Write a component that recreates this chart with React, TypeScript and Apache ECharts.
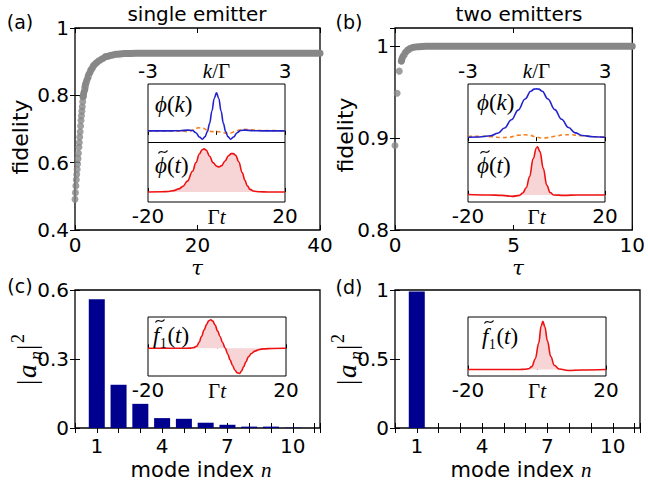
import React, { useEffect, useRef } from 'react';
import * as echarts from 'echarts';

// ---------------- data ----------------
// (a) single emitter: fidelity vs tau
const fidA_tauDots = [0, 0.07, 0.14, 0.21, 0.28, 0.35, 0.42, 0.49, 0.56, 0.63, 0.7, 0.77, 0.84, 0.91, 0.98, 1.05, 1.12, 1.19, 1.26, 1.33];
const fidA_dots = [0.491, 0.511, 0.531, 0.549, 0.565, 0.58, 0.596, 0.612, 0.628, 0.646, 0.66, 0.676, 0.692, 0.709, 0.725, 0.739, 0.753, 0.766, 0.781, 0.796];
const fidA_tauCurve = [1.33, 1.5, 1.79, 2.0, 2.33, 2.7, 3.14, 3.5, 3.95, 4.5, 5.04, 6, 6.67, 8, 10, 15, 20, 30, 40];
const fidA_curve = [0.796, 0.813, 0.836, 0.848, 0.865, 0.878, 0.89, 0.897, 0.903, 0.909, 0.915, 0.919, 0.922, 0.924, 0.925, 0.925, 0.925, 0.925, 0.925];

// (b) two emitters: fidelity vs tau
const fidB_tauDots = [0, 0.09, 0.18, 0.27];
const fidB_dots = [0.892, 0.949, 0.973, 0.984];
const fidB_tauCurve = [0.27, 0.36, 0.45, 0.55, 0.66, 0.8, 1.0, 1.3, 1.7, 2.5, 4, 6, 8, 10];
const fidB_curve = [0.984, 0.99, 0.9935, 0.9962, 0.998, 0.9991, 0.9997, 1.0, 1.0, 1.0, 1.0, 1.0, 1.0, 1.0];

// (c) / (d) mode populations |a_n|^2
const modeIndex = [1, 2, 3, 4, 5, 6, 7, 8, 9, 10];
const popC = [0.56, 0.188, 0.105, 0.043, 0.04, 0.023, 0.014, 0.006, 0.006, 0.0015];
const popD = [0.99, 0, 0, 0, 0, 0, 0, 0, 0, 0];

// inset (a) top: phi(k)
const phiA_k = [-3, -2, -1.6, -1.25, -1.05, -0.9, -0.75, -0.62, -0.5, -0.4, -0.3, -0.2, -0.1, 0, 0.1, 0.2, 0.3, 0.4, 0.5, 0.62, 0.75, 0.9, 1.05, 1.25, 1.6, 2, 3];
const phiA_re = [0, 0, 0.005, 0.02, 0.01, -0.05, -0.16, -0.22, -0.15, -0.02, 0.2, 0.52, 0.85, 1, 0.85, 0.52, 0.2, -0.02, -0.15, -0.22, -0.16, -0.05, 0.01, 0.02, 0.005, 0, 0];
const phiA_kIm = [-3, -2, -1.5, -1.2, -1.0, -0.8, -0.6, -0.4, -0.2, 0, 0.2, 0.4, 0.6, 0.8, 1.0, 1.2, 1.5, 2, 3];
const phiA_im = [0, 0, -0.01, -0.02, 0.03, 0.08, 0.07, 0.02, -0.02, -0.02, -0.03, -0.06, -0.06, -0.02, 0.02, 0.04, 0.03, 0.01, 0];
// inset (a) bottom: phi~(t)
const phiTA_t = [-20, -16, -14, -12.5, -11, -9.8, -8.5, -7, -6, -5, -4.2, -3.6, -3, -2, -1, 0, 0.7, 1.5, 2.5, 3.5, 4.3, 4.9, 5.6, 6.5, 7.5, 8.3, 9, 9.8, 11, 12.5, 15, 20];
const phiTA = [0, 0.005, 0.01, 0.03, 0.07, 0.13, 0.25, 0.48, 0.68, 0.88, 0.98, 1, 0.97, 0.83, 0.68, 0.6, 0.58, 0.61, 0.72, 0.84, 0.89, 0.89, 0.85, 0.7, 0.45, 0.27, 0.14, 0.06, 0.015, 0.003, 0, 0];

// inset (b) top: phi(k)
const phiB_k = [-3, -2.5, -2, -1.7, -1.4, -1.1, -0.8, -0.5, -0.25, -0.1, 0, 0.1, 0.25, 0.5, 0.8, 1.1, 1.4, 1.7, 2, 2.5, 3];
const phiB_re = [0, 0.005, 0.03, 0.08, 0.19, 0.36, 0.56, 0.79, 0.95, 0.995, 1, 0.995, 0.95, 0.79, 0.57, 0.37, 0.2, 0.09, 0.035, 0.008, 0];
const phiB_kIm = [-3, -2.5, -2, -1.5, -1.2, -0.8, -0.5, -0.3, 0, 0.3, 0.5, 0.8, 1.2, 1.5, 2, 2.5, 3];
const phiB_im = [0.02, 0.02, 0.01, -0.01, 0, 0.04, 0.05, 0.04, 0, -0.02, -0.01, 0.02, 0.05, 0.05, 0.03, 0.01, 0];
// inset (b) bottom: phi~(t)
const phiTB_t = [-20, -14, -10, -7, -5, -4, -3, -2, -1, 0, 0.3, 1, 2, 3, 4, 5, 8, 12, 20];
const phiTB = [0.01, 0, -0.01, -0.03, -0.01, 0.04, 0.15, 0.38, 0.75, 0.98, 1, 0.9, 0.55, 0.2, 0.05, 0, -0.01, 0, 0];

// inset (c): f~1(t)
const f1C_t = [-20, -10, -7.9, -6.9, -5.9, -5.2, -4.5, -3.7, -3, -2.4, -1.8, -1.2, -0.6, 0.2, 0.9, 1.6, 2.4, 3.1, 3.8, 4.5, 5.2, 5.9, 6.5, 7.1, 7.7, 8.4, 9.1, 10, 11, 12.3, 13.5, 16, 20];
const f1C = [0, 0, 0.005, 0.02, 0.07, 0.2, 0.41, 0.65, 0.84, 0.96, 1, 0.95, 0.82, 0.6, 0.41, 0.2, 0, -0.2, -0.41, -0.6, -0.77, -0.86, -0.88, -0.8, -0.65, -0.47, -0.3, -0.18, -0.1, -0.04, -0.02, -0.005, 0];
// inset (d): f~1(t)
const f1D_t = [-20, -8, -5, -3.5, -2.5, -1.5, -0.5, 0.5, 1.2, 1.7, 2.3, 3, 4, 5, 6.5, 9, 13, 20];
const f1D = [0, 0, 0, 0.005, 0.015, 0.06, 0.22, 0.55, 0.9, 1, 0.88, 0.6, 0.27, 0.09, 0.01, -0.02, -0.01, 0];

// tick labels
const modeTickLabels = [1, 4, 7, 10];

// ---------------- styling ----------------
const SANS = 'DejaVu Sans';
const SERIF = '"Liberation Serif", "DejaVu Serif", serif';
const GREEKSERIF = '"DejaVu Serif", serif';
const GRAY = '#878787';
const NAVY = '#00008f';
const BLUE = '#2222cc';
const ORANGE = '#f5821f';
const RED = '#ee1111';
const PINK = '#f7d5d7';

const zip = (a: number[], b: number[]) => a.map((x, i) => [x, b[i]]);

const mathRich = (size: number) => ({
  i: { fontFamily: SERIF, fontStyle: 'italic', fontSize: size, color: '#000' },
  r: { fontFamily: SERIF, fontSize: size, color: '#000' },
  s: { fontFamily: SANS, fontSize: size, color: '#000' },
});

function buildOption() {
  const gridBoxes = [
    { left: 75, top: 28, width: 245, height: 202 }, // 0 a
    { left: 395, top: 28, width: 245, height: 202 }, // 1 b
    { left: 75, top: 290, width: 245, height: 138 }, // 2 c
    { left: 395, top: 290, width: 245, height: 138 }, // 3 d
    { left: 148, top: 84, width: 137, height: 58.5 }, // 4 a inset top
    { left: 148, top: 142.5, width: 137, height: 59.5 }, // 5 a inset bottom
    { left: 468, top: 84, width: 137, height: 58.5 }, // 6 b inset top
    { left: 468, top: 142.5, width: 137, height: 59.5 }, // 7 b inset bottom
    { left: 148, top: 317, width: 138, height: 59 }, // 8 c inset
    { left: 468, top: 317, width: 138, height: 59 }, // 9 d inset
  ];
  const grid = gridBoxes.map((g, i) => ({
    ...g,
    show: true,
    borderColor: '#000',
    borderWidth: i < 4 ? 1.3 : 1,
    backgroundColor: i >= 4 ? '#fff' : 'transparent',
    containLabel: false,
  }));

  const labelStyle = { fontFamily: SANS, fontSize: 20, color: '#000' };
  const tick = (len: number) => ({ show: true, inside: true, length: len, lineStyle: { color: '#000', width: 1 } });

  const mainAxis = (
    gridIndex: number,
    position: string,
    min: number,
    max: number,
    interval: number,
    showLabel: boolean,
    extraLabel: any = {}
  ) => ({
    type: 'value',
    gridIndex,
    position,
    min,
    max,
    interval,
    axisLine: { show: false },
    splitLine: { show: false },
    axisTick: tick(5),
    axisLabel: { show: showLabel, ...labelStyle, margin: 6, ...extraLabel },
  });

  const modeFormatter = (v: number) => (modeTickLabels.indexOf(Math.round(v * 1000) / 1000) >= 0 ? String(v) : '');

  const xAxis: any[] = [
    mainAxis(0, 'bottom', 0, 40, 20, true, { margin: 5 }),
    mainAxis(0, 'top', 0, 40, 20, false),
    mainAxis(1, 'bottom', 0, 10, 5, true, { margin: 5 }),
    mainAxis(1, 'top', 0, 10, 5, false),
    mainAxis(2, 'bottom', 0, 11.25, 1, true, { margin: 8, formatter: modeFormatter }),
    mainAxis(2, 'top', 0, 11.25, 1, false),
    mainAxis(3, 'bottom', 0, 11.25, 1, true, { margin: 8, formatter: modeFormatter }),
    mainAxis(3, 'top', 0, 11.25, 1, false),
  ];
  const yAxis: any[] = [
    mainAxis(0, 'left', 0.4, 1, 0.2, true),
    mainAxis(0, 'right', 0.4, 1, 0.2, false),
    mainAxis(1, 'left', 0.8, 1.02, 0.1, true, { showMaxLabel: false }),
    mainAxis(1, 'right', 0.8, 1.02, 0.1, false),
    mainAxis(2, 'left', 0, 0.6, 0.3, true),
    mainAxis(2, 'right', 0, 0.6, 0.3, false),
    mainAxis(3, 'left', 0, 1, 0.5, true),
    mainAxis(3, 'right', 0, 1, 0.5, false),
  ];

  const insetKAxis = (gridIndex: number) => ({
    type: 'value',
    gridIndex,
    position: 'top',
    min: -3,
    max: 3,
    interval: 3,
    axisLine: { show: false },
    splitLine: { show: false },
    axisTick: tick(4),
    axisLabel: {
      ...labelStyle,
      margin: 3,
      formatter: (v: number) => (v === 0 ? '{i|k}{r|/Γ}' : String(v)),
      rich: mathRich(21),
    },
  });
  const insetTAxis = (gridIndex: number) => ({
    type: 'value',
    gridIndex,
    position: 'bottom',
    min: -20,
    max: 20,
    interval: 20,
    axisLine: { show: false },
    splitLine: { show: false },
    axisTick: tick(4),
    axisLabel: {
      ...labelStyle,
      margin: 4,
      formatter: (v: number) => (v === 0 ? '{r|Γ}{i|t}' : String(v)),
      rich: mathRich(21),
    },
  });
  const insetY = (gridIndex: number, min: number, max: number) => ({
    type: 'value',
    gridIndex,
    min,
    max,
    show: false,
    splitLine: { show: false },
  });

  xAxis.push(insetKAxis(4), insetTAxis(5), insetKAxis(6), insetTAxis(7), insetTAxis(8), insetTAxis(9));
  yAxis.push(
    insetY(4, -0.305, 1.229),
    insetY(5, -0.234, 1.148),
    insetY(6, -0.11, 1.1),
    insetY(7, -0.147, 1.09),
    insetY(8, -0.97, 1.095),
    insetY(9, -0.134, 1.09)
  );

  const thinLine = (axis: number, data: number[][], color: string, dashed = false, fill = false) => ({
    type: 'line',
    xAxisIndex: axis,
    yAxisIndex: axis,
    data,
    showSymbol: false,
    symbol: 'none',
    smooth: 0.4,
    smoothMonotone: 'x',
    lineStyle: { color, width: 1.6, type: dashed ? [4, 3] : 'solid' },
    areaStyle: fill ? { color: PINK, opacity: 1, origin: 'auto' } : undefined,
    z: 5,
  });

  const series: any[] = [
    // (a)
    {
      type: 'line',
      xAxisIndex: 0,
      yAxisIndex: 0,
      data: zip(fidA_tauCurve, fidA_curve),
      showSymbol: false,
      symbol: 'none',
      smooth: 0.4,
      smoothMonotone: 'x',
      clip: false,
      lineStyle: { color: GRAY, width: 7, cap: 'round', join: 'round' },
    },
    {
      type: 'scatter',
      xAxisIndex: 0,
      yAxisIndex: 0,
      data: zip(fidA_tauDots, fidA_dots),
      symbolSize: 7,
      clip: false,
      itemStyle: { color: GRAY },
    },
    // (b)
    {
      type: 'line',
      xAxisIndex: 2,
      yAxisIndex: 2,
      data: zip(fidB_tauCurve, fidB_curve),
      showSymbol: false,
      symbol: 'none',
      smooth: 0.4,
      smoothMonotone: 'x',
      clip: false,
      lineStyle: { color: GRAY, width: 7, cap: 'round', join: 'round' },
    },
    {
      type: 'scatter',
      xAxisIndex: 2,
      yAxisIndex: 2,
      data: zip(fidB_tauDots, fidB_dots),
      symbolSize: 7,
      clip: false,
      itemStyle: { color: GRAY },
    },
    // (c)
    {
      type: 'bar',
      xAxisIndex: 4,
      yAxisIndex: 4,
      data: zip(modeIndex, popC),
      barWidth: 16,
      itemStyle: { color: NAVY },
    },
    // (d)
    {
      type: 'bar',
      xAxisIndex: 6,
      yAxisIndex: 6,
      data: zip(modeIndex, popD),
      barWidth: 16,
      itemStyle: { color: NAVY },
    },
    // insets
    thinLine(8, zip(phiA_kIm, phiA_im), ORANGE, true),
    thinLine(8, zip(phiA_k, phiA_re), BLUE),
    thinLine(9, zip(phiTA_t, phiTA), RED, false, true),
    thinLine(10, zip(phiB_kIm, phiB_im), ORANGE, true),
    thinLine(10, zip(phiB_k, phiB_re), BLUE),
    thinLine(11, zip(phiTB_t, phiTB), RED, false, true),
    thinLine(12, zip(f1C_t, f1C), RED, false, true),
    thinLine(13, zip(f1D_t, f1D), RED, false, true),
  ];

  const txt = (x: number, y: number, text: string, font: string, extra: any = {}) => ({
    type: 'text',
    x,
    y,
    z: 100,
    ...extra,
    style: {
      text,
      font,
      fill: '#000',
      align: 'center',
      verticalAlign: 'middle',
      textAlign: 'center',
      textVerticalAlign: 'middle',
    },
  });
  const richLeft = (x: number, y: number, text: string, size: number) => ({
    type: 'text',
    x,
    y,
    z: 100,
    style: {
      text,
      rich: mathRich(size),
      fill: '#000',
      align: 'left',
      verticalAlign: 'middle',
      textAlign: 'left',
      textVerticalAlign: 'middle',
    },
  });
  const richCenter = (x: number, y: number, text: string, size: number) => ({
    ...richLeft(x, y, text, size),
    style: {
      text,
      rich: mathRich(size),
      fill: '#000',
      align: 'center',
      verticalAlign: 'middle',
      textAlign: 'center',
      textVerticalAlign: 'middle',
    },
  });
  const leftTxt = (x: number, y: number, text: string, font: string) => ({
    type: 'text',
    x,
    y,
    style: { text, font, fill: '#000', align: 'left', verticalAlign: 'middle', textAlign: 'left', textVerticalAlign: 'middle' },
  });
  const anLabel = (x: number, y: number) => ({
    type: 'group',
    x,
    y,
    rotation: Math.PI / 2,
    z: 100,
    children: [
      leftTxt(-28, 0, '|', '27px ' + SERIF),
      leftTxt(-21, 0, 'a', 'italic 27px ' + SERIF),
      leftTxt(-3, 9, 'n', 'italic 18px ' + SERIF),
      leftTxt(7, 0, '|', '27px ' + SERIF),
      leftTxt(14, -9, '2', '18px ' + SERIF),
    ],
  });
  // tilde accent drawn as a small curve
  const tilde = (cx: number, cy: number) => ({
    type: 'bezierCurve',
    z: 100,
    shape: {
      x1: cx - 4.5,
      y1: cy + 1.5,
      cpx1: cx - 2,
      cpy1: cy - 3.5,
      cpx2: cx + 2,
      cpy2: cy + 3.5,
      x2: cx + 4.5,
      y2: cy - 1.5,
    },
    style: { stroke: '#000', lineWidth: 1.2, fill: 'none' },
  });

  const graphic: any[] = [
    txt(20, 22, '(a)', `19px ${SANS}`),
    txt(349, 22, '(b)', `19px ${SANS}`),
    txt(20, 286, '(c)', `19px ${SANS}`),
    txt(349, 287, '(d)', `19px ${SANS}`),
    txt(197, 14, 'single emitter', `20px ${SANS}`),
    txt(519, 14, 'two emitters', `20px ${SANS}`),
    txt(20, 137, 'fidelity', `22px ${SANS}`, { rotation: Math.PI / 2 }),
    txt(345, 135, 'fidelity', `22px ${SANS}`, { rotation: Math.PI / 2 }),
    txt(197, 268, 'τ', `italic 21px ${GREEKSERIF}`),
    txt(518, 268, 'τ', `italic 21px ${GREEKSERIF}`),
    richCenter(201, 470, '{s|mode index }{i|n}', 21),
    richCenter(521, 470, '{s|mode index }{i|n}', 21),
    anLabel(27, 357),
    anLabel(347, 357),
    richLeft(155, 104, '{i|ϕ}{r|(}{i|k}{r|)}', 23),
    richLeft(477, 102, '{i|ϕ}{r|(}{i|k}{r|)}', 23),
    richLeft(155, 165, '{i|ϕ}{r|(}{i|t}{r|)}', 23),
    tilde(163, 152),
    richLeft(477, 165, '{i|ϕ}{r|(}{i|t}{r|)}', 23),
    tilde(485, 152),
    richLeft(153, 335, '{i|f}{r|₁(}{i|t}{r|)}', 23),
    tilde(160, 321),
    richLeft(482, 336, '{i|f}{r|₁(}{i|t}{r|)}', 23),
    tilde(489, 322),
  ];

  return {
    animation: false,
    backgroundColor: '#fff',
    textStyle: { fontFamily: SANS },
    grid,
    xAxis,
    yAxis,
    series,
    graphic,
  };
}

export default function App() {
  const ref = useRef<HTMLDivElement>(null);
  useEffect(() => {
    if (!ref.current) return;
    const chart = echarts.init(ref.current, null, { renderer: 'svg' });
    chart.setOption(buildOption() as any);
    return () => chart.dispose();
  }, []);
  return (
    <div
      ref={ref}
      style={{ position: 'fixed', left: 0, top: 0, width: 648, height: 487, background: '#fff' }}
    />
  );
}
